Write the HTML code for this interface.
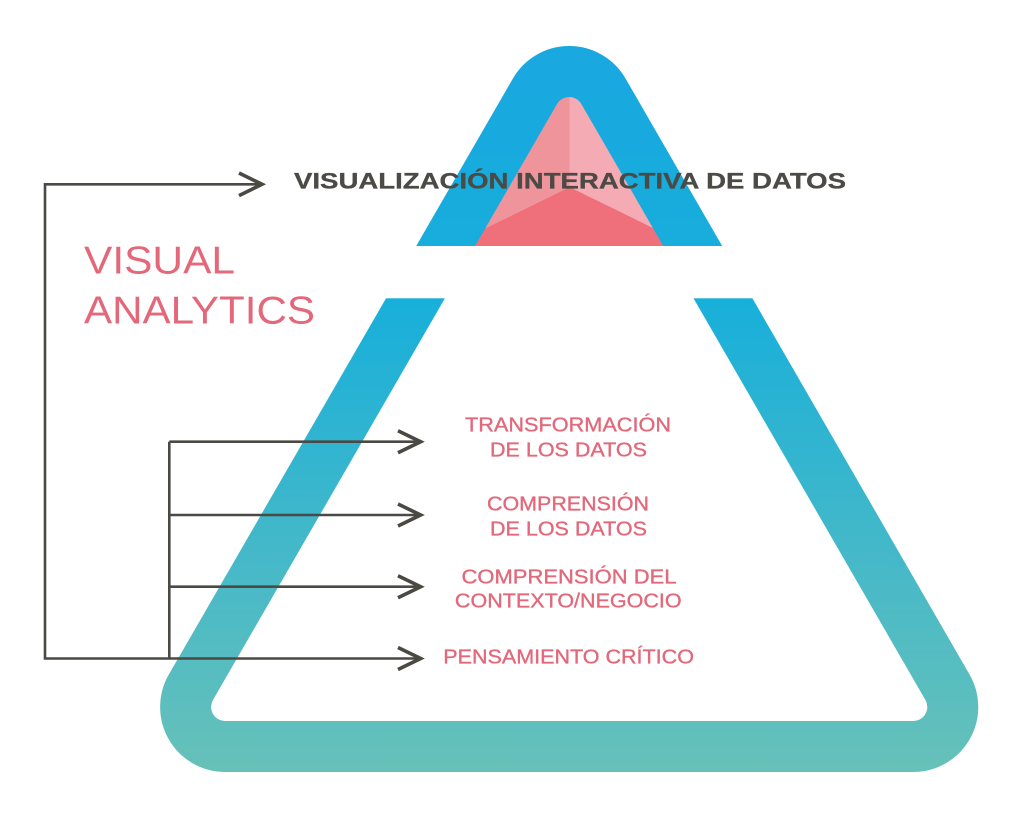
<!DOCTYPE html>
<html>
<head>
<meta charset="utf-8">
<style>
  html, body { margin: 0; padding: 0; background: #ffffff; }
  body { width: 1024px; height: 820px; overflow: hidden; }
  svg { display: block; }
</style>
</head>
<body>
<svg width="1024" height="820" viewBox="0 0 1024 820" xmlns="http://www.w3.org/2000/svg">
  <defs>
    <linearGradient id="band" gradientUnits="userSpaceOnUse" x1="0" y1="40" x2="0" y2="775">
      <stop offset="0" stop-color="#19a7e0"/>
      <stop offset="0.35" stop-color="#17afda"/>
      <stop offset="0.75" stop-color="#4bbac6"/>
      <stop offset="1" stop-color="#67c1b8"/>
    </linearGradient>
    <clipPath id="tri">
      <path d="M225.1,746.5 L913.3,746.5 A39.5,39.5 0 0 0 947.5,687.3 L603.4,91.2 A39.5,39.5 0 0 0 535,91.2 L190.9,687.3 A39.5,39.5 0 0 0 225.1,746.5 Z"/>
    </clipPath>
  </defs>

  <rect x="0" y="0" width="1024" height="820" fill="#ffffff"/>

  <!-- pink inner facets (top piece) -->
  <g clip-path="url(#tri)">
    <polygon points="400,0 569.5,0 569.5,187 449,246 400,246" fill="#f0949c"/>
    <polygon points="569.5,0 740,0 740,246 690,246 569.5,187" fill="#f4abb3"/>
    <polygon points="449,246 569.5,187 690,246" fill="#ef6f7b"/>
  </g>

  <!-- rounded triangle band -->
  <path d="M225.1,746.5 L913.3,746.5 A39.5,39.5 0 0 0 947.5,687.3 L603.4,91.2 A39.5,39.5 0 0 0 535,91.2 L190.9,687.3 A39.5,39.5 0 0 0 225.1,746.5 Z"
        fill="none" stroke="url(#band)" stroke-width="51"/>

  <!-- white gap -->
  <rect x="300" y="246" width="540" height="52.3" fill="#ffffff"/>

  <!-- connectors -->
  <g fill="none" stroke="#4a4943" stroke-width="2.6">
    <path d="M262,184.3 H45 V658.5 H420"/>
    <path d="M169.3,441.7 V658.5"/>
    <path d="M169.3,441.7 H420"/>
    <path d="M169.3,515 H420"/>
    <path d="M169.3,586.7 H420"/>
  </g>
  <g fill="none" stroke="#4a4943" stroke-width="3.6" stroke-linecap="butt" stroke-linejoin="miter">
    <path d="M239,173 L262,184.3 L239,195.6"/>
    <path d="M398,430.7 L420.7,441.7 L398,452.7"/>
    <path d="M398,504 L420.7,515 L398,526"/>
    <path d="M398,575.7 L420.7,586.7 L398,597.7"/>
    <path d="M398,647.5 L420.7,658.5 L398,669.5"/>
  </g>

  <!-- title -->
  <text x="294" y="188.5" font-family="'Liberation Sans', sans-serif" font-weight="bold" font-size="22"
        fill="#4b4a44" stroke="#4b4a44" stroke-width="0.3" textLength="552" lengthAdjust="spacingAndGlyphs">VISUALIZACIÓN INTERACTIVA DE DATOS</text>

  <!-- VISUAL ANALYTICS -->
  <g font-family="'Liberation Sans', sans-serif" font-size="39" fill="#e2687a">
    <text x="84" y="273.3" textLength="151" lengthAdjust="spacingAndGlyphs">VISUAL</text>
    <text x="84" y="323.3" textLength="231" lengthAdjust="spacingAndGlyphs">ANALYTICS</text>
  </g>

  <!-- labels -->
  <g font-family="'Liberation Sans', sans-serif" font-size="20" fill="#e2687a" stroke="#e2687a" stroke-width="0.35" text-anchor="middle">
    <text x="568" y="431.7" textLength="206" lengthAdjust="spacingAndGlyphs">TRANSFORMACIÓN</text>
    <text x="568.5" y="456.7" textLength="157" lengthAdjust="spacingAndGlyphs">DE LOS DATOS</text>
    <text x="568" y="510.7" textLength="162" lengthAdjust="spacingAndGlyphs">COMPRENSIÓN</text>
    <text x="568.5" y="535.5" textLength="157" lengthAdjust="spacingAndGlyphs">DE LOS DATOS</text>
    <text x="569" y="583.3" textLength="215" lengthAdjust="spacingAndGlyphs">COMPRENSIÓN DEL</text>
    <text x="568.3" y="607.7" textLength="226.7" lengthAdjust="spacingAndGlyphs">CONTEXTO/NEGOCIO</text>
    <text x="568.6" y="663.3" textLength="250.7" lengthAdjust="spacingAndGlyphs">PENSAMIENTO CRÍTICO</text>
  </g>
</svg>
</body>
</html>
